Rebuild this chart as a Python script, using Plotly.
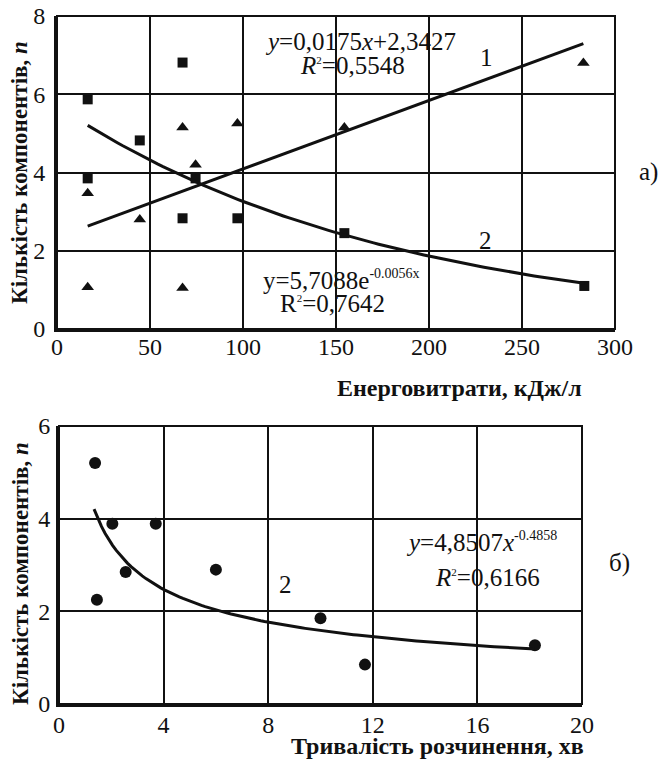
import numpy as np
import plotly.graph_objects as go

# ---- panel a): number of components vs energy consumption ----
energy_sq = [16.5, 67.5, 44.5, 16.5, 74.5, 67.5, 97, 154.5, 283.5]
count_sq = [5.87, 6.81, 4.82, 3.85, 3.85, 2.83, 2.83, 2.45, 1.1]
energy_tri = [16.5, 44.5, 16.5, 67.5, 67.5, 97, 74.5, 154.5, 283]
count_tri = [3.47, 2.8, 1.07, 1.05, 5.15, 5.25, 4.2, 5.15, 6.8]

# trend 1 (linear, triangles): y = 0.0175x + 2.3427
lin_a, lin_b = 0.0175, 2.3427
# trend 2 (exponential, squares): y = 5.7088 e^(-0.0056x)
exp_a, exp_k = 5.7088, -0.0056

# ---- panel б): number of components vs dissolution time ----
time_pts = [1.38, 1.45, 2.04, 2.55, 3.7, 6.0, 10.0, 11.7, 18.2]
count_pts = [5.2, 2.25, 3.89, 2.85, 3.89, 2.9, 1.85, 0.85, 1.27]
# power trend: y = 4.8507 x^(-0.4858)
pow_a, pow_k = 4.8507, -0.4858

x_ticks_a = [0, 50, 100, 150, 200, 250, 300]
y_ticks_a = [0, 2, 4, 6, 8]
x_ticks_b = [0, 4, 8, 12, 16, 20]
y_ticks_b = [0, 2, 4, 6]

FONT = "Liberation Serif, Times New Roman, Times, serif"
INK = "#111111"
W, H = 658, 767

fig = go.Figure()

# panel a markers
fig.add_trace(go.Scatter(x=energy_sq, y=count_sq, mode="markers",
                         marker=dict(symbol="square", size=10, color=INK),
                         xaxis="x", yaxis="y", showlegend=False))
fig.add_trace(go.Scatter(x=energy_tri, y=count_tri, mode="markers",
                         marker=dict(symbol="triangle-up", size=11, color=INK),
                         xaxis="x", yaxis="y", showlegend=False))

# panel a trend lines over the data span
xl = np.linspace(min(energy_tri), max(energy_tri), 50)
fig.add_trace(go.Scatter(x=xl, y=lin_a * xl + lin_b, mode="lines",
                         line=dict(color=INK, width=3),
                         xaxis="x", yaxis="y", showlegend=False))
xe = np.linspace(min(energy_sq), max(energy_sq), 100)
fig.add_trace(go.Scatter(x=xe, y=exp_a * np.exp(exp_k * xe), mode="lines",
                         line=dict(color=INK, width=3),
                         xaxis="x", yaxis="y", showlegend=False))

# panel б markers and power trend
fig.add_trace(go.Scatter(x=time_pts, y=count_pts, mode="markers",
                         marker=dict(symbol="circle", size=12, color=INK),
                         xaxis="x2", yaxis="y2", showlegend=False))
xp = np.linspace(1.34, max(time_pts), 120)
fig.add_trace(go.Scatter(x=xp, y=pow_a * xp ** pow_k, mode="lines",
                         line=dict(color=INK, width=3),
                         xaxis="x2", yaxis="y2", showlegend=False))

def px_dom(a, b, total):
    return [a / total, b / total]

axis_common = dict(showgrid=True, gridcolor=INK, gridwidth=1.5,
                   zeroline=False, showline=True, linecolor=INK, linewidth=3,
                   ticks="", tickfont=dict(family=FONT, size=24, color=INK),
                   automargin=False, fixedrange=True)

fig.update_layout(
    width=W, height=H,
    margin=dict(l=0, r=0, t=0, b=0, autoexpand=False),
    paper_bgcolor="white", plot_bgcolor="white",
    font=dict(family=FONT, color=INK),
    xaxis=dict(domain=px_dom(57, 615, W), range=[0, 300], tickvals=x_ticks_a,
               anchor="y", ticklabelstandoff=-6, **axis_common),
    yaxis=dict(domain=[1 - 329 / H, 1 - 16 / H], range=[0, 8], tickvals=y_ticks_a,
               anchor="x", ticklabelstandoff=4, **axis_common),
    xaxis2=dict(domain=px_dom(59, 582, W), range=[0, 20], tickvals=x_ticks_b,
                anchor="y2", ticklabelstandoff=-3, **axis_common),
    yaxis2=dict(domain=[1 - 704 / H, 1 - 426 / H], range=[0, 6], tickvals=y_ticks_b,
                anchor="x2", ticklabelstandoff=1, **axis_common),
)

# thin top/right frame of each panel
for xr, yr in (("x domain", "y domain"), ("x2 domain", "y2 domain")):
    fig.add_shape(type="rect", xref=xr, yref=yr, x0=0, x1=1, y0=0, y1=1,
                  line=dict(color=INK, width=2), fillcolor="rgba(0,0,0,0)")

SUP2 = "<sup><span style='font-size:11px'>2</span></sup>"
def sup(t):
    return "<sup><span style='font-size:14px'>" + t + "</span></sup>"

def note(text, x, y, xref, yref, size=25, xanchor="center", yanchor="middle", **kw):
    fig.add_annotation(text=text, x=x, y=y, xref=xref, yref=yref,
                       xanchor=xanchor, yanchor=yanchor,
                       showarrow=False, font=dict(family=FONT, size=size, color=INK),
                       **kw)

# panel a labels
note("<i>y</i>=0,0175<i>x</i>+2,3427", 163.4, 7.35, "x", "y")
note("<i>R</i>" + SUP2 + "=0,5548", 158.6, 6.73, "x", "y")
note("y=5,7088e" + sup("-0.0056x"), 152.7, 1.25, "x", "y")
note("R" + SUP2 + "=0,7642", 148, 0.66, "x", "y")
note("1", 231, 6.94, "x", "y")
note("2", 230.6, 2.27, "x", "y")

# panel б labels
note("<i>y</i>=4,8507<i>x</i>" + sup("-0.4858"), 16.17, 3.5, "x2", "y2")
note("<i>R</i>" + SUP2 + "=0,6166", 16.4, 2.72, "x2", "y2")
note("2", 8.66, 2.57, "x2", "y2")

# axis titles
note("<b>Енерговитрати, кДж/л</b>", 459 / W, 1 - 388 / H, "paper", "paper", size=24)
note("<b>Тривалість розчинення, хв</b>", 437 / W, 1 - 746 / H, "paper", "paper", size=24)
note("<b>Кількість компонентів, <i>n</i></b>", 20 / W, 1 - 173 / H, "paper", "paper",
     size=23, textangle=-90)
note("<b>Кількість компонентів, <i>n</i></b>", 20 / W, 1 - 574 / H, "paper", "paper",
     size=23, textangle=-90)

# panel markers
note("а)", 637 / W, 1 - 172 / H, "paper", "paper", xanchor="left")
note("б)", 619 / W, 1 - 563 / H, "paper", "paper")

# the page hosts only the figure: no body margin, no scrollbars
fig.write_html("out.html",
               post_script="document.body.style.margin='0';"
                           "document.body.style.overflow='hidden';")
